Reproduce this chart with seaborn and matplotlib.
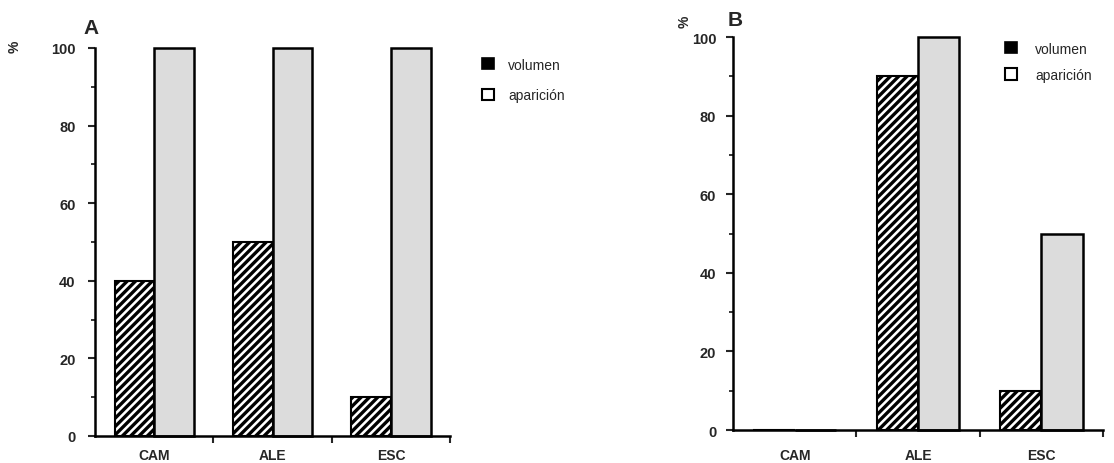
import pandas as pd
import matplotlib.pyplot as plt
import seaborn as sns
from matplotlib.patches import Patch
from matplotlib.ticker import MultipleLocator

# Datos
categorias = ["CAM", "ALE", "ESC"]
series = ["volumen", "aparición"]
volumen_a = [40, 50, 10]
aparicion_a = [100, 100, 100]
volumen_b = [0, 90, 10]
aparicion_b = [0, 100, 50]
yticks = [0, 20, 40, 60, 80, 100]

sns.set_style("white")
plt.rcParams["font.family"] = ["Liberation Sans", "DejaVu Sans"]
plt.rcParams["hatch.linewidth"] = 2.4
plt.rcParams["hatch.color"] = "black"

fig = plt.figure(figsize=(11.14, 4.64), dpi=100)
ax_a = fig.add_axes([0.0853, 0.0582, 0.3187, 0.8362])
ax_b = fig.add_axes([0.658, 0.0711, 0.3321, 0.847])


def make_df(vol, apa):
    filas = []
    for c, v in zip(categorias, vol):
        filas.append({"cat": c, "serie": series[0], "valor": v})
    for c, v in zip(categorias, apa):
        filas.append({"cat": c, "serie": series[1], "valor": v})
    return pd.DataFrame(filas)


def draw_panel(ax, df, lab_pad, ytick_pad):
    sns.barplot(data=df, x="cat", y="valor", hue="serie", order=categorias,
                hue_order=series, width=0.67, gap=0, ax=ax, legend=False,
                palette=["white", "#dcdcdc"], saturation=1, errorbar=None)
    # estilo de las barras
    for bar in ax.containers[0]:
        bar.set_facecolor("white")
        bar.set_hatch("////")
        bar.set_edgecolor("black")
        bar.set_linewidth(1.5)
        bar.set_clip_on(False)
    for bar in ax.containers[1]:
        bar.set_facecolor("#dcdcdc")
        bar.set_edgecolor("black")
        bar.set_linewidth(1.8)
        bar.set_clip_on(False)

    ax.set_xlim(-0.5, 2.5)
    ax.set_ylim(0, 100)
    ax.set_yticks(yticks)
    ax.yaxis.set_minor_locator(MultipleLocator(10))
    ax.set_xticks(range(len(categorias)))
    ax.set_xticklabels(categorias, fontsize=10, fontweight="bold")
    ax.set_xticks([0.5, 1.5, 2.5], minor=True)
    ax.tick_params(axis="x", which="major", length=0, pad=lab_pad)
    ax.tick_params(axis="x", which="minor", bottom=True, length=5, width=1.5,
                   direction="out")
    ax.tick_params(axis="y", which="major", left=True, length=5, width=1.5,
                   labelsize=10.5, pad=ytick_pad)
    ax.tick_params(axis="y", which="minor", left=True, length=3, width=1.3)
    for t in ax.get_yticklabels():
        t.set_fontweight("bold")
    ax.set_xlabel("")
    ax.set_ylabel("")
    sns.despine(ax=ax)
    for s in ["left", "bottom"]:
        ax.spines[s].set_linewidth(1.8)
        ax.spines[s].set_color("black")


draw_panel(ax_a, make_df(volumen_a, aparicion_a), 9, 9)
draw_panel(ax_b, make_df(volumen_b, aparicion_b), 13, 7)

# letras de panel y simbolo %
fig.text(91 / 1114, 1 - 29 / 464, "A", fontsize=15, fontweight="bold",
         ha="center", va="center")
fig.text(735 / 1114, 1 - 20 / 464, "B", fontsize=15, fontweight="bold",
         ha="center", va="center")
fig.text(15 / 1114, 1 - 47 / 464, "%", fontsize=10, fontweight="bold",
         ha="center", va="center", rotation=90)
fig.text(685 / 1114, 1 - 22 / 464, "%", fontsize=10, fontweight="bold",
         ha="center", va="center", rotation=90)

handles = [Patch(facecolor="black", edgecolor="black", linewidth=1.2),
           Patch(facecolor="white", edgecolor="black", linewidth=1.5)]
ax_a.legend(handles, series, loc="upper left", frameon=False,
            bbox_to_anchor=(469 / 1114, 1 - 46 / 464),
            bbox_transform=fig.transFigure, fontsize=10, handlelength=0.9,
            handleheight=0.9, handletextpad=1.0, labelspacing=1.2)
ax_b.legend(handles, series, loc="upper left", frameon=False,
            bbox_to_anchor=(992 / 1114, 1 - 30 / 464),
            bbox_transform=fig.transFigure, fontsize=10, handlelength=0.9,
            handleheight=0.9, handletextpad=1.3, labelspacing=0.9)

plt.savefig("out.png", dpi=100)
plt.close()
